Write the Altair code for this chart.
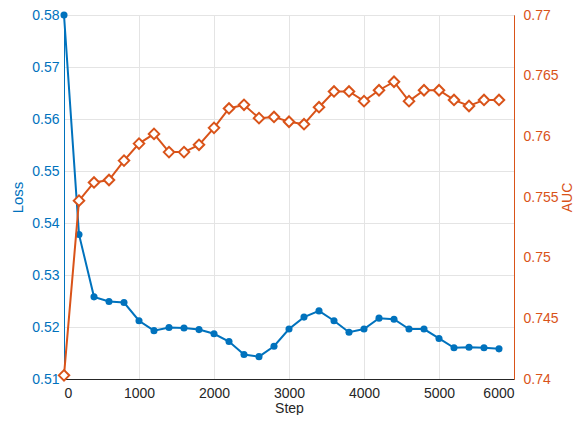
import altair as alt
import pandas as pd

steps = list(range(0, 6000, 200))
loss = [0.5800, 0.5378, 0.5258, 0.5249, 0.5247, 0.5212, 0.5193, 0.5199, 0.5198, 0.5195,
        0.5187, 0.5172, 0.5147, 0.5143, 0.5163, 0.5196, 0.5219, 0.5231, 0.5212, 0.5190,
        0.5196, 0.5217, 0.5215, 0.5196, 0.5196, 0.5178, 0.5160, 0.5161, 0.5160, 0.5158]
auc = [0.7403, 0.7547, 0.7562, 0.7564, 0.7580, 0.7594, 0.7602, 0.7587, 0.7587, 0.7593,
       0.7607, 0.7623, 0.7626, 0.7615, 0.7616, 0.7612, 0.7610, 0.7624, 0.7637, 0.7637,
       0.7629, 0.7638, 0.7645, 0.7629, 0.7638, 0.7638, 0.7630, 0.7625, 0.7630, 0.7630]

x_ticks = [0, 1000, 2000, 3000, 4000, 5000, 6000]
loss_ticks = [0.51, 0.52, 0.53, 0.54, 0.55, 0.56, 0.57, 0.58]
auc_ticks = [0.74, 0.745, 0.75, 0.755, 0.76, 0.765, 0.77]

df = pd.DataFrame({"Step": steps, "Loss": loss, "AUC": auc})

BLUE = "#0072BD"
ORANGE = "#D95319"
DARK = "#262626"
FONT = "Liberation Sans"

x_enc = alt.X("Step:Q",
              scale=alt.Scale(domain=[0, 6000], nice=False),
              axis=alt.Axis(values=x_ticks, title="Step", format="d",
                            labelColor=DARK, titleColor=DARK, domainColor=DARK,
                            labelPadding=7, titlePadding=1, titleFontSize=14, tickSize=0))

base = alt.Chart(df)

loss_layer = base.mark_line(color=BLUE, strokeWidth=2, clip=False,
                            point=alt.OverlayMarkDef(filled=True, color=BLUE, size=50, shape="circle")).encode(
    x=x_enc,
    y=alt.Y("Loss:Q",
            scale=alt.Scale(domain=[0.51, 0.58], nice=False, zero=False),
            axis=alt.Axis(values=loss_ticks, format=".2f", title="Loss", orient="left",
                          labelColor=BLUE, titleColor=BLUE, domainColor=BLUE,
                          labelPadding=5, titlePadding=6, tickSize=0))
)

auc_layer = base.mark_line(color=ORANGE, strokeWidth=2, clip=False,
                           point=alt.OverlayMarkDef(filled=False, color=ORANGE, size=110,
                                                    shape="diamond", strokeWidth=2, fill="white")).encode(
    x=x_enc,
    y=alt.Y("AUC:Q",
            scale=alt.Scale(domain=[0.74, 0.77], nice=False, zero=False),
            axis=alt.Axis(values=auc_ticks, format=".3~f", title="AUC", orient="right",
                          labelColor=ORANGE, titleColor=ORANGE, domainColor=ORANGE,
                          labelPadding=9, tickSize=0, titleFontSize=14,
                          titleAngle=270, titleX=57, titleY=182, titleAlign="center",
                          titleBaseline="alphabetic"))
)

chart = alt.layer(loss_layer, auc_layer).resolve_scale(y="independent").properties(
    width=450, height=364,
    background="white",
    autosize=alt.AutoSizeParams(type="none"),
    padding={"left": 56, "top": 7, "right": 59, "bottom": 36},
).configure_view(stroke=DARK, strokeWidth=1).configure_axis(
    labelFont=FONT, titleFont=FONT, labelFontSize=14, titleFontSize=15,
    titleFontWeight="normal", gridColor="#e4e4e4", gridWidth=1, domainWidth=1,
)

chart.save("out.html", embed_options={"renderer": "svg", "actions": False})
